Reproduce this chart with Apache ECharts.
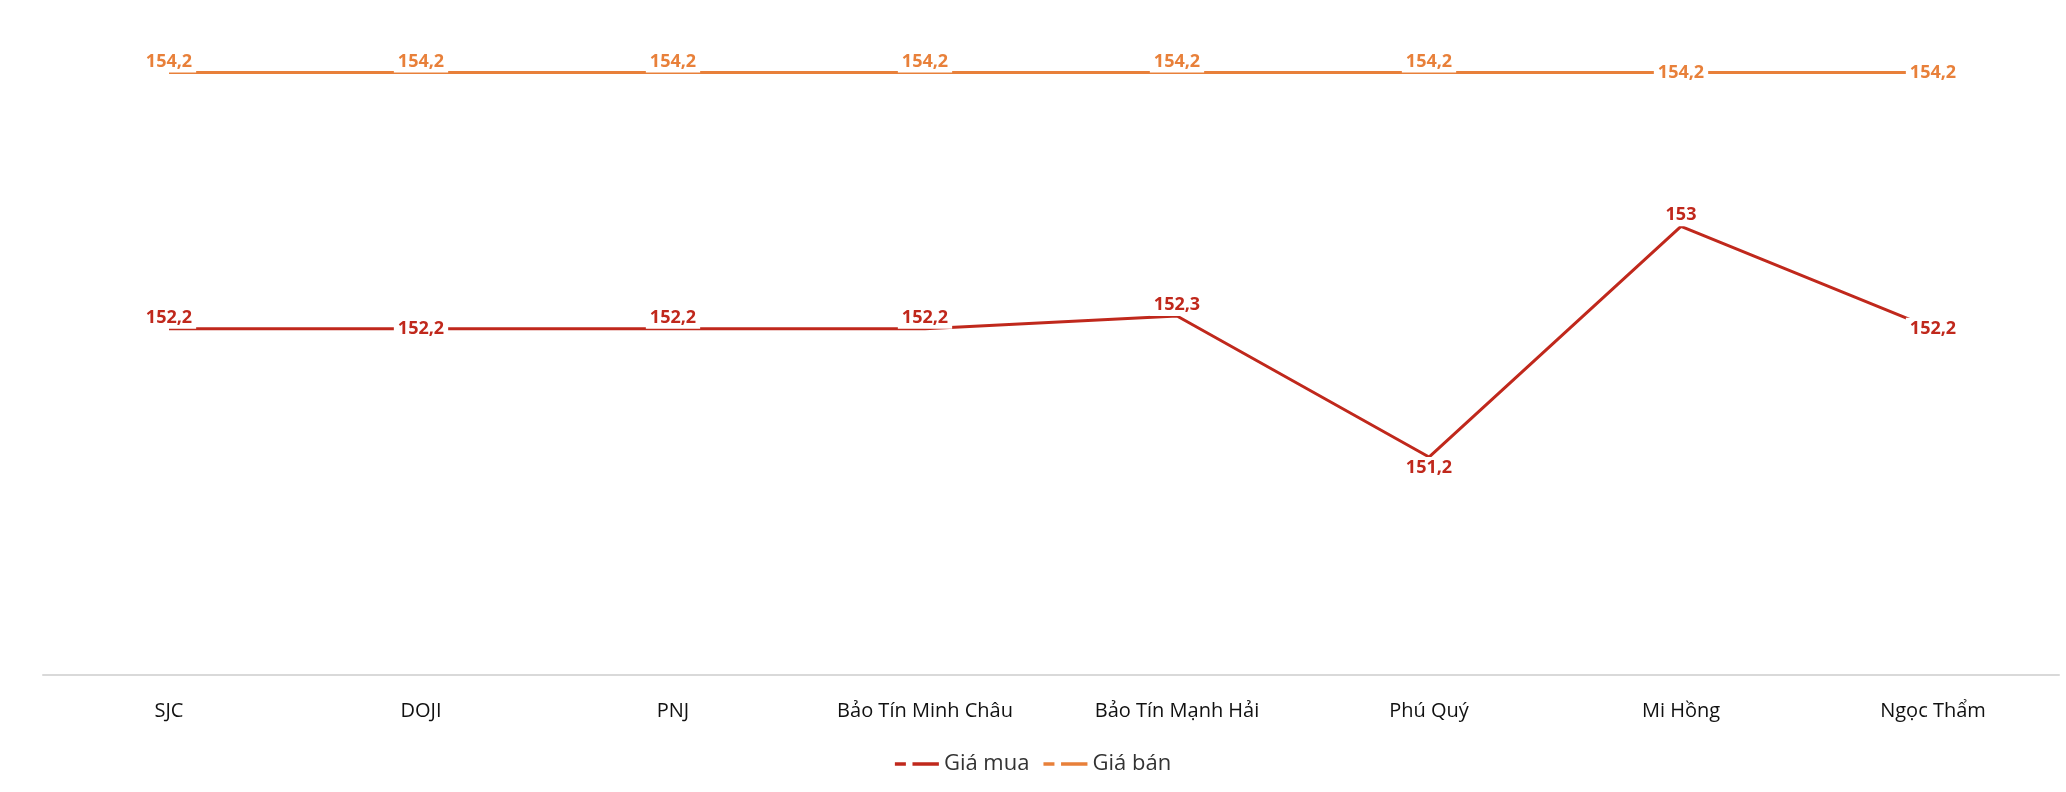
<!DOCTYPE html>
<html>
<head>
<meta charset="utf-8">
<script src="https://cdn.jsdelivr.net/npm/echarts@6/dist/echarts.min.js"></script>
<style>html,body{margin:0;padding:0;background:#fff}#chart{width:2066px;height:792px}</style>
</head>
<body>
<div id="chart"></div>
<script>
// cửa hàng vàng
var categories = ['SJC', 'DOJI', 'PNJ', 'Bảo Tín Minh Châu', 'Bảo Tín Mạnh Hải', 'Phú Quý', 'Mi Hồng', 'Ngọc Thẩm'];
var giaMua = [152.2, 152.2, 152.2, 152.2, 152.3, 151.2, 153, 152.2];
var giaBan = [154.2, 154.2, 154.2, 154.2, 154.2, 154.2, 154.2, 154.2];
var muaPos = ['top', 'inside', 'top', 'top', 'top', 'bottom', 'top', 'inside'];
var banPos = ['top', 'top', 'top', 'top', 'top', 'top', 'inside', 'inside'];

var myChart = echarts.init(document.getElementById('chart'));

function fmt(p) { return String(p.value).replace('.', ','); }
function build(vals, pos) {
    return vals.map(function (v, i) { return { value: v, label: { position: pos[i] } }; });
}

var dashIcon = 'path://M0,0 L10,0 L10,3 L0,3 Z M16,0 L40,0 L40,3 L16,3 Z';

var option = {
    animation: false,
    textStyle: { fontFamily: 'Open Sans' },
    grid: { left: 43, right: 7, top: 34, bottom: 117 },
    legend: {
        bottom: 12,
        left: 'center',
        itemWidth: 44,
        itemHeight: 4,
        itemGap: 14,
        icon: dashIcon,
        textStyle: { fontSize: 22, color: '#333' },
        data: ['Giá mua', 'Giá bán']
    },
    xAxis: {
        type: 'category',
        data: categories,
        axisLine: { lineStyle: { color: '#d9d9d9', width: 2 } },
        axisTick: { show: false },
        axisLabel: { fontSize: 20, color: '#111', margin: 26 }
    },
    yAxis: { type: 'value', min: 149.5, max: 154.5, show: false, splitLine: { show: false } },
    series: [
        {
            name: 'Giá mua', type: 'line', data: build(giaMua, muaPos), symbol: 'circle', symbolSize: 0,
            color: '#C0281C', lineStyle: { width: 3 },
            label: { show: true, formatter: fmt, fontSize: 18, fontWeight: 'bold', color: '#C0281C',
                backgroundColor: '#fff', padding: [2, 4], distance: 0 }
        },
        {
            name: 'Giá bán', type: 'line', data: build(giaBan, banPos), symbol: 'circle', symbolSize: 0,
            color: '#E8803A', lineStyle: { width: 3 },
            label: { show: true, formatter: fmt, fontSize: 18, fontWeight: 'bold', color: '#E8803A',
                backgroundColor: '#fff', padding: [2, 4], distance: 0 }
        }
    ]
};
myChart.setOption(option);
</script>
</body>
</html>
